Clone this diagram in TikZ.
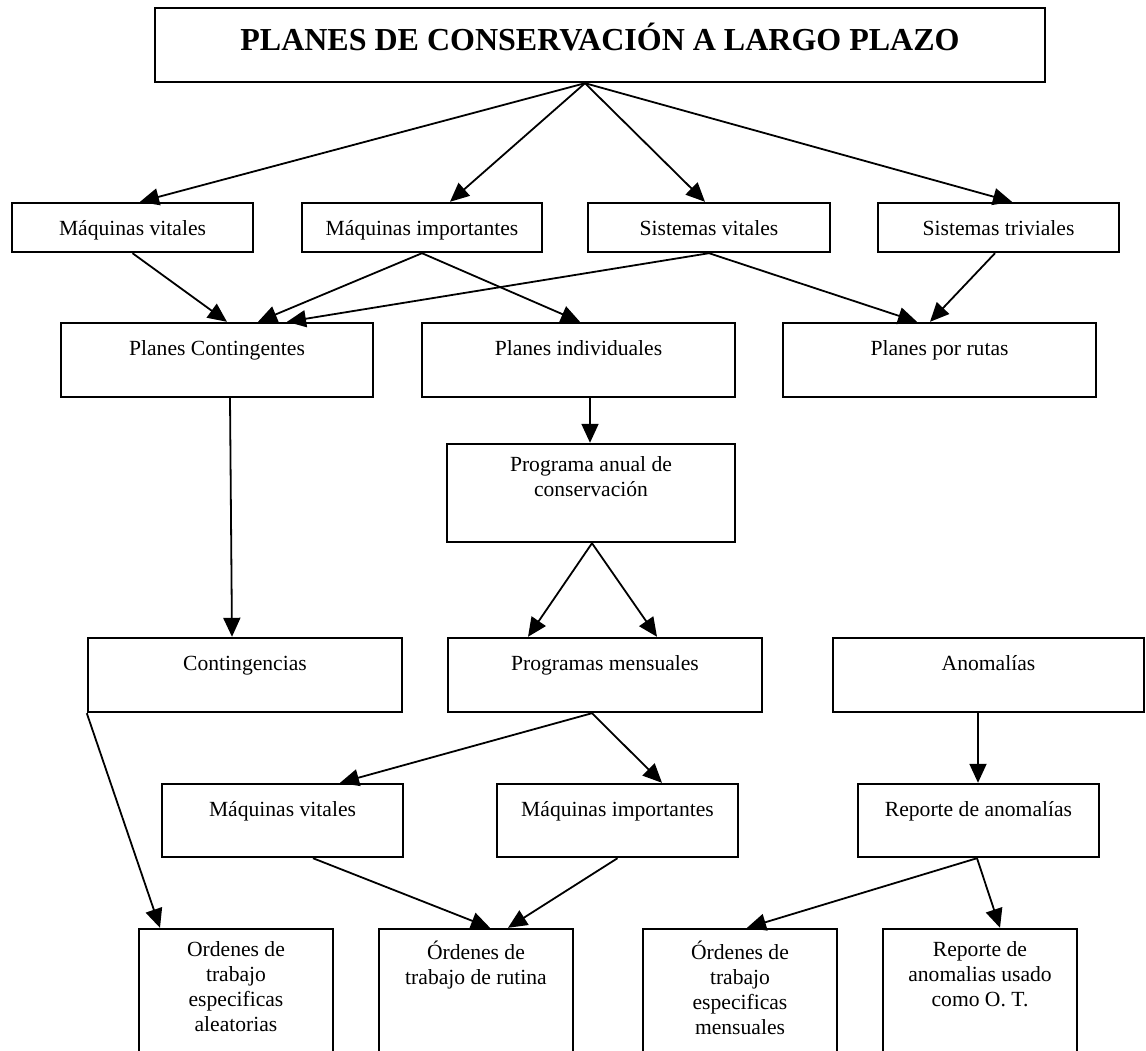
\documentclass[tikz,border=0pt]{standalone}
\usepackage{fontspec}
\setmainfont{Liberation Serif}
\usetikzlibrary{arrows.meta}
\begin{document}
\begin{tikzpicture}[x=1pt,y=-1pt,
  bx/.style={draw,line width=2.4pt,inner sep=0pt},
  tx/.style={anchor=north,inner sep=0pt,align=center,font=\fontsize{21.6}{25}\selectfont,execute at begin node={\rule{0pt}{20pt}}},
  arr/.style={line width=1.8pt,-{Triangle[length=19pt,width=17pt]}}]
\useasboundingbox (0,0) rectangle (1146,1050);
\clip (0,0) rectangle (1146,1050);
% title
\node[bx,minimum width=890pt,minimum height=74pt] (title) at (600,45) {};
\node[anchor=base,inner sep=0pt,font=\fontsize{32}{38}\selectfont\bfseries] (title-t) at (600,50) {PLANES DE CONSERVACIÓN A LARGO PLAZO};
% row 1
\node[bx,minimum width=241pt,minimum height=49pt] (mv1) at (132.5,227.5) {};
\node[tx] (mv1-t) at (132.5,215) {Máquinas vitales};
\node[bx,minimum width=240pt,minimum height=49pt] (mi1) at (422,227.5) {};
\node[tx] (mi1-t) at (422,215) {Máquinas importantes};
\node[bx,minimum width=242pt,minimum height=49pt] (sv1) at (709,227.5) {};
\node[tx] (sv1-t) at (709,215) {Sistemas vitales};
\node[bx,minimum width=241pt,minimum height=49pt] (st1) at (998.5,227.5) {};
\node[tx] (st1-t) at (998.5,215) {Sistemas triviales};
% row 2
\node[bx,minimum width=312pt,minimum height=74pt] (pc) at (217,360) {};
\node[tx] (pc-t) at (217,335) {Planes Contingentes};
\node[bx,minimum width=313pt,minimum height=74pt] (pi) at (578.5,360) {};
\node[tx] (pi-t) at (578.5,335) {Planes individuales};
\node[bx,minimum width=313pt,minimum height=74pt] (pr) at (939.5,360) {};
\node[tx] (pr-t) at (939.5,335) {Planes por rutas};
% programa anual
\node[bx,minimum width=288pt,minimum height=98pt] (pa) at (591,493) {};
\node[tx] (pa-t) at (591,456) {Programa anual de\\conservación};
% row 4
\node[bx,minimum width=314pt,minimum height=74pt] (cont) at (245,675) {};
\node[tx] (cont-t) at (245,650) {Contingencias};
\node[bx,minimum width=314pt,minimum height=74pt] (pm) at (605,675) {};
\node[tx] (pm-t) at (605,650) {Programas mensuales};
\node[bx,minimum width=311pt,minimum height=74pt] (anom) at (988.5,675) {};
\node[tx] (anom-t) at (988.5,650) {Anomalías};
% row 5
\node[bx,minimum width=241pt,minimum height=73pt] (mv5) at (282.5,820.5) {};
\node[tx] (mv5-t) at (282.5,796) {Máquinas vitales};
\node[bx,minimum width=241pt,minimum height=73pt] (mi5) at (617.5,820.5) {};
\node[tx] (mi5-t) at (617.5,796) {Máquinas importantes};
\node[bx,minimum width=241pt,minimum height=73pt] (ra) at (978.5,820.5) {};
\node[tx] (ra-t) at (978.5,796) {Reporte de anomalías};
% row 6
\node[bx,minimum width=194pt,minimum height=124pt] (oa) at (236,991) {};
\node[tx] (oa-t) at (236,941) {Ordenes de\\trabajo\\especificas\\aleatorias};
\node[bx,minimum width=194pt,minimum height=124pt] (or) at (476,991) {};
\node[tx] (or-t) at (476,941) {Órdenes de\\trabajo de rutina};
\node[bx,minimum width=194pt,minimum height=124pt] (om) at (740,991) {};
\node[tx] (om-t) at (740,941) {Órdenes de\\trabajo\\especificas\\mensuales};
\node[bx,minimum width=194pt,minimum height=124pt] (ru) at (980,991) {};
\node[tx] (ru-t) at (980,941) {Reporte de\\anomalias usado\\como O. T.};
% arrows
\draw[arr] ([xshift=-15pt]title.south) -- ([xshift=7.5pt]mv1.north);
\draw[arr] ([xshift=-15pt]title.south) -- ([xshift=28pt]mi1.north);
\draw[arr] ([xshift=-15pt]title.south) -- ([xshift=-4pt]sv1.north);
\draw[arr] ([xshift=-15pt]title.south) -- ([xshift=13.5pt]st1.north);
\draw[arr] (mv1.south) -- ([xshift=10pt]pc.north);
\draw[arr] (mi1.south) -- ([xshift=41pt]pc.north);
\draw[arr] (sv1.south) -- ([xshift=70pt]pc.north);
\draw[arr] (mi1.south) -- ([xshift=1.5pt]pi.north);
\draw[arr] (sv1.south) -- ([xshift=-22.5pt]pr.north);
\draw[arr] ([xshift=-3.5pt]st1.south) -- ([xshift=-9.5pt]pr.north);
\draw[arr] ([xshift=13pt]pc.south) -- ([xshift=-13pt]cont.north);
\draw[arr] ([xshift=11.5pt]pi.south) -- ([xshift=-1pt]pa.north);
\draw[arr] ([xshift=1pt]pa.south) -- ([xshift=-77pt]pm.north);
\draw[arr] ([xshift=1pt]pa.south) -- ([xshift=52pt]pm.north);
\draw[arr] (cont.south west) -- ([xshift=-76pt]oa.north);
\draw[arr] ([xshift=-13pt]pm.south) -- ([xshift=57.5pt]mv5.north);
\draw[arr] ([xshift=-13pt]pm.south) -- ([xshift=44.5pt]mi5.north);
\draw[arr] ([xshift=30.5pt]mv5.south) -- ([xshift=14pt]or.north);
\draw[arr] (mi5.south) -- ([xshift=32pt]or.north);
\draw[arr] ([xshift=-10.5pt]anom.south) -- ([xshift=-0.5pt]ra.north);
\draw[arr] ([xshift=-1.5pt]ra.south) -- ([xshift=7pt]om.north);
\draw[arr] ([xshift=-1.5pt]ra.south) -- ([xshift=20pt]ru.north);
\end{tikzpicture}
\end{document}
